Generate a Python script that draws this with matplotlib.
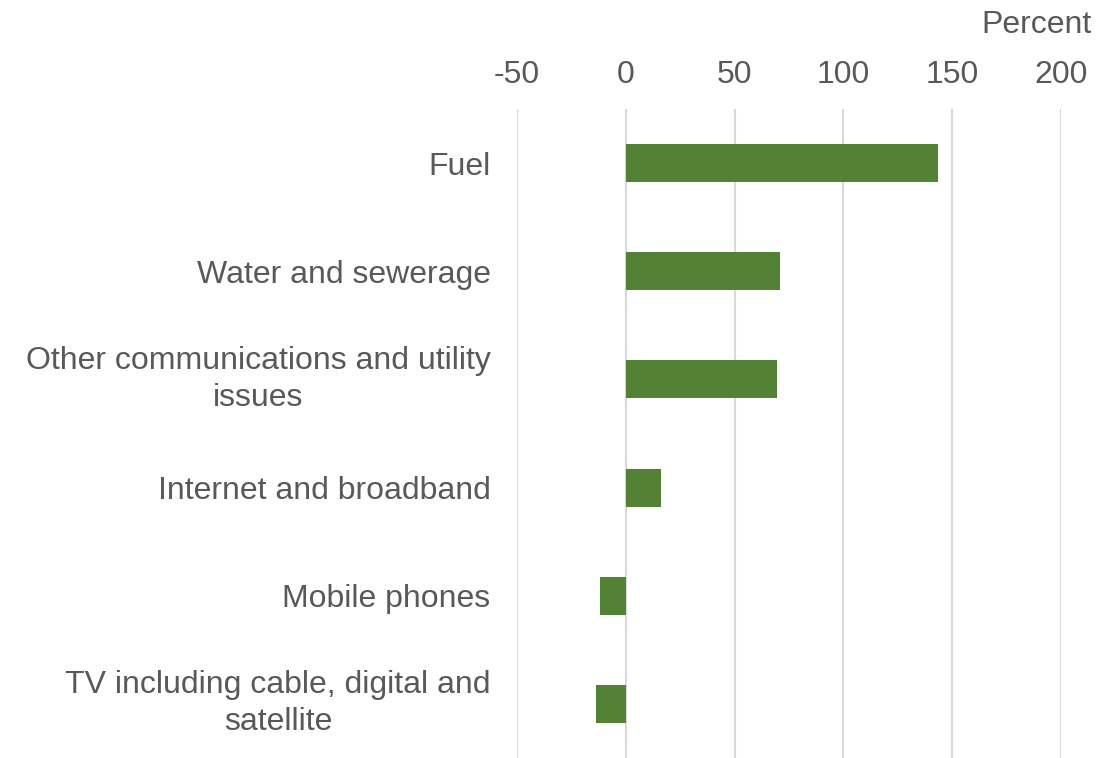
import matplotlib.pyplot as plt

categories = ["Fuel", "Water and sewerage", "Other communications and utility\nissues",
              "Internet and broadband", "Mobile phones", "TV including cable, digital and\nsatellite"]
values = [143.3, 70.7, 69.6, 16.4, -11.7, -13.5]
xticks = [-50, 0, 50, 100, 150, 200]

plt.rcParams['font.family'] = ['Liberation Sans', 'DejaVu Sans']
text_col = '#595959'

fig = plt.figure(figsize=(11.17, 7.58), dpi=100)
ax = fig.add_axes([517 / 1117, 0.0, (1061 - 517) / 1117, (758 - 109) / 758])

ax.barh(range(len(categories)), values, height=0.35, color='#548235', zorder=3)
ax.set_xlim(-50, 200)
ax.set_ylim(len(categories) - 0.5, -0.5)
ax.set_xticks(xticks)
ax.set_xticklabels([str(t) for t in xticks])
ax.xaxis.tick_top()
ax.set_yticks(range(len(categories)))
ax.set_yticklabels(categories, multialignment='center', linespacing=1.3)
for lbl in ax.get_yticklabels():
    if "\n" in lbl.get_text():
        lbl.set_verticalalignment('center')
ax.tick_params(axis='x', length=0, pad=13.5, labelsize=23, colors=text_col)
ax.tick_params(axis='y', length=0, pad=19, labelsize=23, colors=text_col)
ax.grid(axis='x', color='#d9d9d9', linewidth=1.5, zorder=0)
for s in ax.spines.values():
    s.set_visible(False)

fig.text(1092 / 1117, 1 - 25 / 758, "Percent", ha='right', va='center', fontsize=23, color=text_col)

fig.savefig("out.png", dpi=100)
